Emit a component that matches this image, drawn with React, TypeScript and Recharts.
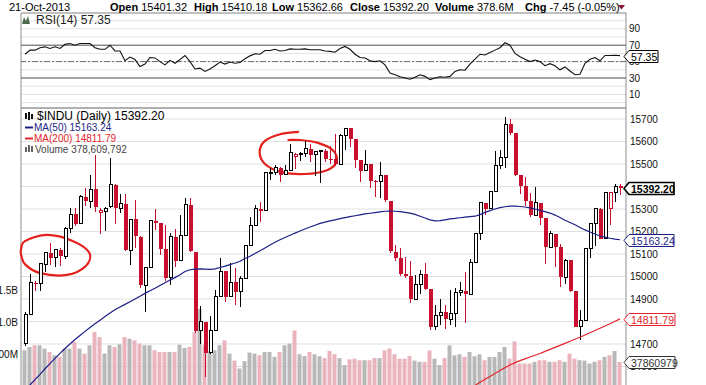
import React from "react"
import {
  ComposedChart,
  Bar,
  Line,
  XAxis,
  YAxis,
  CartesianGrid,
  ReferenceLine,
  ReferenceArea,
  Cell,
} from "recharts"

const FONT = "'Liberation Sans', Arial, sans-serif"
const RED = "#c8102e"
const NAVY = "#1c1f86"
const MA200_RED = "#e3242b"

// trading days on the chart (May 2 .. Oct 21, 2013)
const tradingDays: [string, number[]][] = [
  ["2013-05", [2, 3, 6, 7, 8, 9, 10, 13, 14, 15, 16, 17, 20, 21, 22, 23, 24, 28, 29, 30, 31]],
  ["2013-06", [3, 4, 5, 6, 7, 10, 11, 12, 13, 14, 17, 18, 19, 20, 21, 24, 25, 26, 27, 28]],
  ["2013-07", [1, 2, 3, 5, 8, 9, 10, 11, 12, 15, 16, 17, 18, 19, 22, 23, 24, 25, 26, 29, 30, 31]],
  ["2013-08", [1, 2, 5, 6, 7, 8, 9, 12, 13, 14, 15, 16, 19, 20, 21, 22, 23, 26, 27, 28, 29, 30]],
  ["2013-09", [3, 4, 5, 6, 9, 10, 11, 12, 13, 16, 17, 18, 19, 20, 23, 24, 25, 26, 27, 30]],
  ["2013-10", [1, 2, 3, 4, 7, 8, 9, 10, 11, 14, 15, 16, 17, 18, 21]],
]

const opens = [
  14700, 14833, 14973, 14969, 15054, 15105, 15083, 15117, 15091, 15215,
  15276, 15234, 15355, 15335, 15387, 15283, 15291, 15310, 15408, 15302,
  15324, 15116, 15254, 15177, 14961, 15041, 15248, 15237, 15122, 14996,
  15176, 15071, 15180, 15318, 15110, 14759, 14797, 14662, 14760, 14911,
  15024, 14911, 14974, 14932, 14989, 15136, 15225, 15300, 15292, 15461,
  15464, 15484, 15452, 15471, 15532, 15544, 15546, 15568, 15542, 15556,
  15559, 15522, 15521, 15500, 15628, 15658, 15612, 15518, 15471, 15498,
  15426, 15420, 15451, 15337, 15111, 15081, 15011, 15002, 14898, 14964,
  15011, 14946, 14776, 14825, 14841, 14810, 14834, 14931, 14937, 14922,
  15063, 15191, 15326, 15301, 15376, 15495, 15530, 15677, 15637, 15451,
  15401, 15335, 15273, 15328, 15258, 15130, 15191, 15133, 14996, 15073,
  14936, 14777, 14803, 15126, 15237, 15300, 15168, 15300, 15372, 15401.32,
]

const highs = [
  14843, 15010, 14980, 15061, 15106, 15151, 15124, 15127, 15221, 15304,
  15306, 15362, 15395, 15449, 15542, 15306, 15311, 15527, 15410, 15368,
  15367, 15254, 15340, 15178, 15043, 15249, 15300, 15237, 15227, 15192,
  15211, 15275, 15349, 15348, 15110, 14870, 14797, 14825, 14940, 15082,
  15024, 15060, 15037, 15000, 15141, 15264, 15319, 15331, 15465, 15484,
  15497, 15488, 15496, 15589, 15551, 15552, 15604, 15589, 15556, 15559,
  15567, 15582, 15634, 15634, 15659, 15659, 15612, 15518, 15562, 15498,
  15427, 15509, 15451, 15337, 15141, 15128, 15085, 15068, 15007, 15029,
  15060, 14946, 14873, 14901, 14872, 14940, 14950, 14974, 15020, 15076,
  15191, 15327, 15327, 15382, 15560, 15562, 15709, 15700, 15637, 15451,
  15443, 15371, 15398, 15328, 15258, 15204, 15191, 15143, 15077, 15073,
  14936, 14851, 15126, 15237, 15301, 15303, 15376, 15376, 15410, 15410.18,
]

const lows = [
  14690, 14833, 14935, 14935, 15018, 15053, 15044, 15046, 15078, 15194,
  15223, 15234, 15312, 15306, 15288, 15191, 15203, 15305, 15232, 15282,
  15115, 15052, 15128, 14950, 14844, 15041, 15205, 15096, 14980, 14960,
  15040, 15071, 15180, 15111, 14750, 14700, 14552, 14655, 14760, 14911,
  14887, 14911, 14873, 14864, 14989, 15136, 15225, 15241, 15292, 15427,
  15450, 15420, 15452, 15471, 15480, 15513, 15531, 15509, 15447, 15416,
  15510, 15499, 15493, 15500, 15562, 15575, 15482, 15420, 15471, 15393,
  15353, 15349, 15333, 15106, 15070, 15002, 14993, 14884, 14898, 14924,
  14941, 14760, 14762, 14785, 14767, 14784, 14777, 14915, 14793, 14922,
  15063, 15162, 15274, 15300, 15376, 15480, 15482, 15631, 15445, 15367,
  15315, 15263, 15273, 15229, 15055, 15130, 15041, 14953, 14966, 14932,
  14776, 14718, 14803, 15084, 15135, 15166, 15168, 15230, 15331, 15362.66,
]

const closes = [
  14832, 14974, 14969, 15056, 15105, 15083, 15118, 15092, 15215, 15276,
  15233, 15354, 15335, 15388, 15307, 15295, 15303, 15409, 15303, 15325,
  15116, 15254, 15178, 14961, 15041, 15248, 15239, 15122, 14995, 15176,
  15070, 15180, 15318, 15112, 14758, 14799, 14660, 14760, 14910, 15024,
  14910, 14975, 14932, 14989, 15136, 15225, 15300, 15292, 15461, 15464,
  15484, 15452, 15471, 15549, 15544, 15546, 15568, 15542, 15556, 15559,
  15522, 15521, 15500, 15628, 15658, 15612, 15519, 15471, 15498, 15426,
  15420, 15451, 15338, 15112, 15081, 15011, 15003, 14898, 14964, 15011,
  14946, 14776, 14825, 14841, 14810, 14834, 14931, 14937, 14922, 15063,
  15191, 15327, 15301, 15376, 15495, 15530, 15677, 15637, 15451, 15401,
  15335, 15273, 15328, 15258, 15130, 15192, 15133, 14996, 15073, 14936,
  14777, 14803, 15126, 15237, 15301, 15168, 15374, 15372, 15399.65, 15392.2,
]

// volume in millions of shares
const volumesM = [
  563, 614, 641, 641, 589, 536, 484, 458, 589, 589,
  693, 589, 510, 641, 849, 771, 510, 641, 614, 656,
  771, 745, 719, 667, 641, 641, 563, 536, 536, 536,
  536, 651, 599, 615, 848, 1214, 641, 547, 563, 641,
  719, 510, 400, 276, 391, 526, 510, 484, 536, 536,
  458, 536, 641, 667, 875, 500, 470, 536, 500, 470,
  440, 552, 500, 440, 330, 420, 430, 406, 406, 406,
  440, 440, 560, 589, 500, 430, 430, 470, 400, 380,
  380, 560, 430, 330, 440, 641, 484, 500, 458, 536,
  469, 500, 406, 458, 458, 536, 614, 432, 703, 354,
  354, 354, 380, 406, 406, 380, 380, 406, 380, 510,
  432, 406, 400, 354, 380, 406, 458, 484, 552, 378.609792,
]

const ma50 = [
  14490, 14518, 14542, 14565, 14590, 14613, 14636, 14658, 14680, 14700,
  14720, 14738, 14756, 14773, 14790, 14806, 14822, 14838, 14852, 14864,
  14876, 14888, 14900, 14912, 14925, 14937, 14948, 14960, 14972, 14984,
  14995, 15008, 15022, 15030, 15033, 15034, 15033, 15032, 15034, 15040,
  15046, 15053, 15060, 15068, 15080, 15090, 15102, 15114, 15127, 15140,
  15152, 15163, 15173, 15183, 15193, 15202, 15211, 15220, 15228, 15236,
  15242, 15247, 15252, 15257, 15262, 15266, 15270, 15274, 15278, 15281,
  15284, 15287, 15290, 15291, 15290, 15288, 15285, 15282, 15276, 15268,
  15260, 15252, 15247, 15248, 15252, 15256, 15258, 15261, 15264, 15266,
  15268, 15275, 15285, 15293, 15300, 15306, 15310, 15313, 15313, 15311,
  15309, 15305, 15300, 15294, 15288, 15282, 15273, 15262, 15250, 15240,
  15230, 15218, 15207, 15198, 15189, 15180, 15175, 15170, 15166, 15163.24,
]

// MA(200) only reaches the visible price range near the end
const ma200: (number | null)[] = [
  ...Array(87).fill(null),
  14478, 14490, 14503,
  14516, 14530, 14543, 14556, 14569, 14582, 14595, 14607, 14617, 14626,
  14634, 14642, 14650, 14658, 14667, 14676, 14685, 14694, 14703, 14712,
  14721, 14730, 14740, 14750, 14760, 14770, 14780, 14790, 14801, 14811.79,
]

const rsi = [
  59, 64, 64, 67, 68, 66, 68, 66, 71, 72,
  70, 72, 72, 72, 67, 65, 65, 70, 63, 63,
  51, 55.5, 52.5, 44, 47, 55, 54.5, 50, 46, 51.5,
  48, 52.5, 57.5, 50, 41, 42, 38, 41, 45, 49.5,
  47, 49.5, 48, 49, 53.5, 57, 59.5, 59, 63.5, 63.5,
  65, 63, 63.5, 65.5, 65, 65, 65.5, 64.5, 64.5, 64.5,
  63, 62.5, 61.5, 66, 68.5, 65, 59, 55, 54.5, 51,
  50, 51, 46, 36, 34, 31.5, 30, 28.5, 31, 34,
  32, 28, 30, 31.5, 31, 32, 38, 40, 39.5, 47,
  53, 59, 58, 61, 64, 67, 73, 70, 60, 56,
  53, 50, 52, 50, 45, 47.5, 45, 40, 43.5, 38.5,
  34, 34.5, 48, 53, 55, 51, 57.5, 57.5, 57.8, 57.35,
]

const priceTicks = [14600, 14700, 14800, 14900, 15000, 15100, 15200, 15300, 15400, 15500, 15600, 15700]
const rsiTicks = [0, 10, 20, 30, 40, 50, 60, 70, 80, 90, 100]
const rsiLabelled = [10, 30, 50, 70, 90]
const volTicks = [500, 1000, 1500]

const X_DOMAIN: [number, number] = [-0.8, 120.2]
const PRICE_DOMAIN: [number, number] = [14513.3, 15748.9]
const VOL_DOMAIN: [number, number] = [0, 4378]
const RSI_DOMAIN: [number, number] = [-6.6, 109.3]

const dates = tradingDays.flatMap(([m, days]) => days.map((d) => `${m}-${String(d).padStart(2, "0")}`))

const rows = dates.map((date, i) => ({
  idx: i,
  date,
  open: opens[i],
  high: highs[i],
  low: lows[i],
  close: closes[i],
  range: [lows[i], highs[i]],
  down: i > 0 && closes[i] < closes[i - 1],
  volume: volumesM[i],
  ma50: ma50[i],
  ma200: ma200[i],
  rsi: rsi[i],
}))

// grid: weekly lines (light) and month starts (dark), between two bars
const weekLines: number[] = []
const monthLines: number[] = []
dates.forEach((d, i) => {
  if (i === 0) return
  const cur = new Date(d + "T00:00:00Z")
  const prev = new Date(dates[i - 1] + "T00:00:00Z")
  if (cur.getUTCMonth() !== prev.getUTCMonth()) monthLines.push(i - 0.5)
  else if (cur.getUTCDay() < prev.getUTCDay()) weekLines.push(i - 0.5)
})

const linesAt = (vals: number[]) => (p: any) =>
  typeof p?.xAxis?.scale === "function" ? vals.map((v) => p.xAxis.scale(v)) : []

const last = rows.length - 1
const lastClose = closes[last]
const prevClose = closes[last - 1]
const chg = lastClose - prevClose
const lastVolRaw = Math.round(volumesM[last] * 1e6)
const headerDate = new Date(dates[last] + "T00:00:00Z")
const MONTHS = ["Jan", "Feb", "Mar", "Apr", "May", "Jun", "Jul", "Aug", "Sep", "Oct", "Nov", "Dec"]
const dateLabel = `${headerDate.getUTCDate()}-${MONTHS[headerDate.getUTCMonth()]}-${headerDate.getUTCFullYear()}`

function Candle(props: any) {
  const { x, y, width, height, payload } = props
  if (x == null || height == null) return <g />
  const { open, close, high, low, down } = payload
  const span = high - low || 1
  const toY = (v: number) => y + ((high - v) / span) * height
  const cx = Math.round(x + width / 2)
  const color = down ? RED : "#000"
  const top = toY(Math.max(open, close))
  const bodyH = Math.max(toY(Math.min(open, close)) - top, 1)
  return (
    <g shapeRendering="crispEdges">
      <line x1={cx + 0.5} x2={cx + 0.5} y1={y} y2={y + height} stroke={color} />
      {close > open ? (
        <rect x={cx - 1} y={top} width={3} height={bodyH} fill="#fff" stroke={color} />
      ) : (
        <rect x={cx - 1.5} y={top} width={4} height={bodyH} fill={color} />
      )}
    </g>
  )
}

function Tag(props: any) {
  const { viewBox, text, color, bold, w } = props
  if (!viewBox) return <g />
  const tip = viewBox.x + viewBox.width - 2
  const cy = Math.round(viewBox.y) + 0.5
  const h = 6
  const d = `M${tip},${cy} L${tip + 5},${cy - h} L${tip + w},${cy - h} L${tip + w},${cy + h} L${tip + 5},${cy + h} Z`
  return (
    <g>
      <path d={d} fill="#fff" stroke={color} strokeWidth={bold ? 1.6 : 1} />
      <text x={tip + 7} y={cy + 4} fill={color} fontSize={10.5} fontWeight={bold ? 700 : 400} fontFamily={FONT}>
        {text}
      </text>
    </g>
  )
}

function RightTick(props: any) {
  const { x, y, payload, only } = props
  if (only && !only.includes(payload.value)) return <g />
  return (
    <text x={x} y={y} dy="0.355em" textAnchor="start" fontSize={10} fontFamily={FONT} fill="#111">
      {payload.value}
    </text>
  )
}

const smoothPath = (pts: number[][]) => {
  let d = `M${pts[0][0]},${pts[0][1]}`
  for (let i = 0; i < pts.length - 1; i++) {
    const p0 = pts[i - 1] ?? pts[i]
    const p1 = pts[i]
    const p2 = pts[i + 1]
    const p3 = pts[i + 2] ?? p2
    const c1 = [p1[0] + (p2[0] - p0[0]) / 6, p1[1] + (p2[1] - p0[1]) / 6]
    const c2 = [p2[0] - (p3[0] - p1[0]) / 6, p2[1] - (p3[1] - p1[1]) / 6]
    d += ` C${c1[0]},${c1[1]} ${c2[0]},${c2[1]} ${p2[0]},${p2[1]}`
  }
  return d
}

// hand-drawn red loops, in units of their box
const loopA = [[0.01, 0.38], [0.07, 0.16], [0.39, 0.02], [0.76, 0.16], [0.99, 0.42], [0.94, 0.71], [0.67, 0.91], [0.29, 0.87], [0.07, 0.67], [0.01, 0.42]]
const loopB = [[0.49, 0.08], [0.27, 0.13], [0.085, 0.27], [0.02, 0.5], [0.085, 0.75], [0.29, 0.92], [0.57, 0.96], [0.85, 0.875], [0.96, 0.69], [0.91, 0.46], [0.73, 0.31], [0.51, 0.25], [0.37, 0.25]]

function Scribble(props: any) {
  const { x, y, width, height, pts } = props
  if (x == null) return <g />
  const abs = pts.map(([u, v]: number[]) => [x + u * width, y + v * height])
  return <path d={smoothPath(abs)} fill="none" stroke="#e4211c" strokeWidth={2.2} strokeLinecap="round" />
}

function RsiPanel() {
  return (
    <ComposedChart width={706} height={110} data={rows} margin={{ top: 13, right: 0, bottom: 2, left: 21 }}>
      <XAxis xAxisId="x" dataKey="idx" type="number" domain={X_DOMAIN} hide allowDataOverflow />
      <YAxis
        yAxisId="r"
        orientation="right"
        width={80}
        domain={RSI_DOMAIN}
        ticks={rsiTicks}
        interval={0}
        allowDataOverflow
        axisLine={false}
        tickLine={false}
        tickSize={0}
        tickMargin={3}
        tick={<RightTick only={rsiLabelled} />}
      />
      <CartesianGrid xAxisId="x" yAxisId="r" vertical={false} stroke="#e3e3e3" />
      <CartesianGrid xAxisId="x" yAxisId="r" horizontal={false} stroke="#d5d5d5" verticalCoordinatesGenerator={linesAt(weekLines)} />
      <CartesianGrid xAxisId="x" yAxisId="r" horizontal={false} stroke="#9c9c9c" verticalCoordinatesGenerator={linesAt(monthLines)} />
      <ReferenceLine xAxisId="x" yAxisId="r" y={70} stroke="#5a5a5a" />
      <ReferenceLine xAxisId="x" yAxisId="r" y={30} stroke="#5a5a5a" />
      <ReferenceLine xAxisId="x" yAxisId="r" y={50} stroke="#6a6a6a" strokeDasharray="6 2 2 2" />
      <ReferenceArea xAxisId="x" yAxisId="r" x1={X_DOMAIN[0]} x2={X_DOMAIN[1]} y1={RSI_DOMAIN[0]} y2={RSI_DOMAIN[1]} fill="none" stroke="#8f8f8f" ifOverflow="visible" />
      <Line xAxisId="x" yAxisId="r" dataKey="rsi" stroke="#111" strokeWidth={1.1} dot={false} isAnimationActive={false} />
    </ComposedChart>
  )
}

// value tags drawn in a transparent layer above the axis labels
function RsiTags() {
  return (
    <ComposedChart width={706} height={110} data={rows} margin={{ top: 13, right: 80, bottom: 2, left: 21 }}>
      <XAxis xAxisId="x" dataKey="idx" type="number" domain={X_DOMAIN} hide allowDataOverflow />
      <YAxis yAxisId="r" width={0} domain={RSI_DOMAIN} hide allowDataOverflow />
      <ReferenceLine
        xAxisId="x"
        yAxisId="r"
        y={rsi[last]}
        stroke="none"
        label={(p: any) => <Tag viewBox={p.viewBox} text={rsi[last].toFixed(2)} color="#000" w={34} />}
      />
    </ComposedChart>
  )
}

function PricePanel() {
  return (
    <ComposedChart width={706} height={292} data={rows} margin={{ top: 1, right: 0, bottom: 13, left: 0 }}>
      <XAxis xAxisId="c" dataKey="idx" type="number" domain={X_DOMAIN} hide allowDataOverflow />
      <XAxis xAxisId="v" dataKey="idx" type="number" domain={X_DOMAIN} hide allowDataOverflow />
      <YAxis
        yAxisId="vol"
        orientation="left"
        width={21}
        domain={VOL_DOMAIN}
        ticks={volTicks}
        interval={0}
        allowDataOverflow
        axisLine={false}
        tickLine={false}
        tickSize={0}
        tickMargin={3}
        tick={{ fontSize: 10, fill: "#111", fontFamily: FONT }}
        tickFormatter={(v: number) => (v >= 1000 ? `${(v / 1000).toFixed(1)}B` : `${v}M`)}
      />
      <YAxis
        yAxisId="price"
        orientation="right"
        width={80}
        domain={PRICE_DOMAIN}
        ticks={priceTicks}
        interval={0}
        allowDataOverflow
        axisLine={false}
        tickLine={false}
        tickSize={0}
        tickMargin={4}
        tick={<RightTick />}
      />
      <CartesianGrid xAxisId="c" yAxisId="price" vertical={false} stroke="#e0e0e0" />
      <CartesianGrid xAxisId="c" yAxisId="price" horizontal={false} stroke="#d5d5d5" verticalCoordinatesGenerator={linesAt(weekLines)} />
      <CartesianGrid xAxisId="c" yAxisId="price" horizontal={false} stroke="#9c9c9c" verticalCoordinatesGenerator={linesAt(monthLines)} />
      <Bar xAxisId="v" yAxisId="vol" dataKey="volume" barSize={4} isAnimationActive={false}>
        {rows.map((r) => (
          <Cell key={r.idx} fill={r.down ? "#e9b4bc" : "#b8b8b8"} />
        ))}
      </Bar>
      <Bar xAxisId="c" yAxisId="price" dataKey="range" barSize={4} shape={<Candle />} isAnimationActive={false} />
      <Line xAxisId="c" yAxisId="price" dataKey="ma50" stroke={NAVY} strokeWidth={1.2} dot={false} isAnimationActive={false} />
      <Line xAxisId="c" yAxisId="price" dataKey="ma200" stroke={MA200_RED} strokeWidth={1.2} dot={false} isAnimationActive={false} />
      <ReferenceArea xAxisId="c" yAxisId="price" x1={X_DOMAIN[0]} x2={X_DOMAIN[1]} y1={PRICE_DOMAIN[0]} y2={PRICE_DOMAIN[1]} fill="none" stroke="#8f8f8f" ifOverflow="visible" />
      <ReferenceArea xAxisId="c" yAxisId="price" x1={-1} x2={13} y1={14989} y2={15189} ifOverflow="visible" shape={(p: any) => <Scribble {...p} pts={loopA} />} />
      <ReferenceArea xAxisId="c" yAxisId="price" x1={46.6} x2={63} y1={15447} y2={15660} ifOverflow="visible" shape={(p: any) => <Scribble {...p} pts={loopB} />} />
    </ComposedChart>
  )
}

function PriceTags() {
  return (
    <ComposedChart width={706} height={292} data={rows} margin={{ top: 1, right: 80, bottom: 13, left: 21 }}>
      <XAxis xAxisId="c" dataKey="idx" type="number" domain={X_DOMAIN} hide allowDataOverflow />
      <YAxis yAxisId="price" width={0} domain={PRICE_DOMAIN} hide allowDataOverflow />
      <YAxis yAxisId="vol" width={0} domain={VOL_DOMAIN} hide allowDataOverflow />
      <ReferenceLine xAxisId="c" yAxisId="price" y={lastClose} stroke="none"
        label={(p: any) => <Tag viewBox={p.viewBox} text={lastClose.toFixed(2)} color="#000" bold w={50} />} />
      <ReferenceLine xAxisId="c" yAxisId="price" y={ma50[last]} stroke="none"
        label={(p: any) => <Tag viewBox={p.viewBox} text={ma50[last].toFixed(2)} color={NAVY} w={50} />} />
      <ReferenceLine xAxisId="c" yAxisId="price" y={ma200[last] as number} stroke="none"
        label={(p: any) => <Tag viewBox={p.viewBox} text={(ma200[last] as number).toFixed(2)} color={MA200_RED} w={51} />} />
      <ReferenceLine xAxisId="c" yAxisId="vol" y={volumesM[last]} stroke="none"
        label={(p: any) => <Tag viewBox={p.viewBox} text={String(lastVolRaw).slice(0, 8)} color="#333" w={51} />} />
    </ComposedChart>
  )
}

function Overlay() {
  const hy = 10.5
  return (
    <svg width={706} height={385} style={{ position: "absolute", left: 0, top: 0, pointerEvents: "none" }}>
      <g fontFamily={FONT} fontSize={11} fill="#000">
        <text x={9} y={hy}>{dateLabel}</text>
        <text x={110} y={hy}><tspan fontWeight={700}>Open</tspan> {opens[last].toFixed(2)}</text>
        <text x={194} y={hy}><tspan fontWeight={700}>High</tspan> {highs[last].toFixed(2)}</text>
        <text x={272} y={hy}><tspan fontWeight={700}>Low</tspan> {lows[last].toFixed(2)}</text>
        <text x={350} y={hy}><tspan fontWeight={700}>Close</tspan> {lastClose.toFixed(2)}</text>
        <text x={435} y={hy}><tspan fontWeight={700}>Volume</tspan> {(volumesM[last]).toFixed(1)}M</text>
        <text x={525} y={hy}>
          <tspan fontWeight={700}>Chg</tspan> {chg.toFixed(2)} ({((chg / prevClose) * 100).toFixed(2)}%)
        </text>
      </g>
      <path d="M618,5 L625,5 L621.5,9.5 Z" fill="#8a1538" />

      {/* RSI legend */}
      <path d="M22,24 L24,17 L26,21 L28,16 L30,24 Z" fill="#4d6b4d" />
      <text x={36} y={24} fontFamily={FONT} fontSize={12} fill="#222">RSI(14) {rsi[last].toFixed(2)}</text>

      {/* price legend */}
      <g fill="#111">
        <rect x={25} y={113} width={2} height={6} />
        <rect x={28} y={112} width={2} height={8} />
        <rect x={31} y={114} width={2} height={5} />
      </g>
      <text x={37} y={120} fontFamily={FONT} fontSize={12} fill="#000">$INDU (Daily) {lastClose.toFixed(2)}</text>
      <line x1={25} x2={33} y1={127.5} y2={127.5} stroke={NAVY} strokeWidth={2} />
      <text x={34} y={131} fontFamily={FONT} fontSize={10} fill={NAVY}>MA(50) {ma50[last].toFixed(2)}</text>
      <line x1={25} x2={33} y1={138.5} y2={138.5} stroke={MA200_RED} strokeWidth={2} />
      <text x={34} y={142} fontFamily={FONT} fontSize={10} fill={MA200_RED}>MA(200) {(ma200[last] as number).toFixed(2)}</text>
      <g fill="#666">
        <rect x={25} y={147} width={2} height={5} />
        <rect x={28} y={145} width={2} height={7} />
        <rect x={31} y={146} width={2} height={6} />
      </g>
      <text x={35} y={153} fontFamily={FONT} fontSize={10} fill="#444">Volume {lastVolRaw.toLocaleString("en-US")}</text>
    </svg>
  )
}

const layer: React.CSSProperties = { position: "absolute", left: 0 }

export default function App() {
  return (
    <div style={{ position: "fixed", left: 0, top: 0, width: 706, height: 385, overflow: "hidden", background: "#fff" }}>
      <div style={{ ...layer, top: 0 }}>
        <RsiPanel />
      </div>
      <div style={{ ...layer, top: 107 }}>
        <PricePanel />
      </div>
      <div style={{ ...layer, top: 0 }}>
        <RsiTags />
      </div>
      <div style={{ ...layer, top: 107 }}>
        <PriceTags />
      </div>
      <Overlay />
    </div>
  )
}
